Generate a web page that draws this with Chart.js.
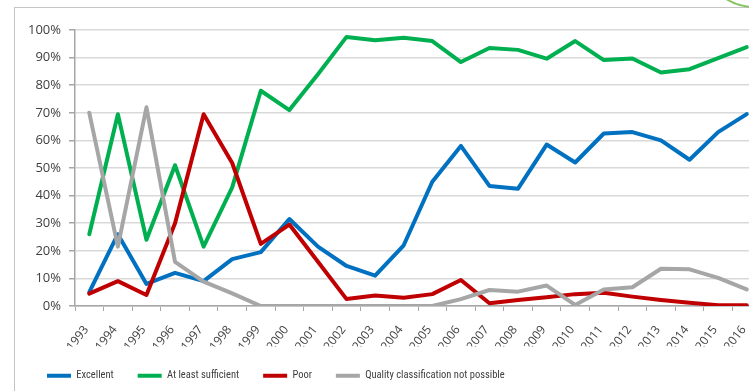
<!DOCTYPE html>
<html>
<head>
<meta charset="utf-8">
<script src="https://cdn.jsdelivr.net/npm/chart.js@4/dist/chart.umd.min.js"></script>
<style>
	html, body { margin: 0; padding: 0; background: #fff; overflow: hidden; width: 749px; height: 391px; }
	.frame { position: absolute; left: 14px; top: 7px; width: 800px; height: 420px; border: 1.5px solid #c4c4c4; box-sizing: border-box; }
	.badge { position: absolute; left: 699px; top: -104px; width: 112px; height: 112px; border: 2px solid #86c466; border-radius: 50%; box-sizing: border-box; }
	#qualityChart { position: absolute; left: 15px; top: 8px; }
</style>
</head>
<body>
<div class="frame"></div>
<div class="badge"></div>
<canvas id="qualityChart" width="760" height="383"></canvas>
<script>
"use strict";

const years = ["1993", "1994", "1995", "1996", "1997", "1998", "1999", "2000", "2001", "2002", "2003", "2004",
	"2005", "2006", "2007", "2008", "2009", "2010", "2011", "2012", "2013", "2014", "2015", "2016"];

const excellent = [5, 26, 8, 12, 9, 17, 19.5, 31.5, 21.5, 14.5, 11, 22, 45, 58, 43.5, 42.5, 58.5, 52, 62.5, 63, 60, 53, 63, 69.5];
const atLeastSufficient = [26, 69.5, 24, 51, 21.5, 43, 78, 71, 84, 97.5, 96.3, 97.2, 96, 88.4, 93.5, 92.8, 89.6, 96, 89.1, 89.7, 84.6, 85.8, 89.8, 93.8];
const poor = [4.5, 9, 4, 30, 69.5, 51.8, 22.5, 29.5, 16, 2.5, 3.8, 3, 4.3, 9.4, 1, 2.2, 3.2, 4.3, 4.8, 3.4, 2.2, 1.2, 0.3, 0.3];
const notPossible = [70, 21.5, 72, 16, 8.8, 4.6, 0, 0, 0, 0, 0, 0, 0, 2.5, 5.8, 5.2, 7.4, 0.4, 6, 6.8, 13.5, 13.3, 10.2, 6];

const yTicks = [0, 10, 20, 30, 40, 50, 60, 70, 80, 90, 100];

function series(label, data, color, order) {
	return {
		label: label,
		data: data,
		borderColor: color,
		backgroundColor: color,
		borderWidth: 4,
		borderJoinStyle: "round",
		borderCapStyle: "round",
		pointRadius: 0,
		pointHoverRadius: 0,
		tension: 0,
		fill: false,
		order: order // later series sit on top, as in the source sheet
	};
}

const ctx = document.getElementById("qualityChart").getContext("2d");

new Chart(ctx, {
	type: "line",
	data: {
		labels: years,
		datasets: [
			series("Excellent", excellent, "#0070c0", 3),
			series("At least sufficient", atLeastSufficient, "#00b050", 2),
			series("Poor", poor, "#c00000", 1),
			series("Quality classification not possible", notPossible, "#a6a6a6", 0)
		]
	},
	options: {
		responsive: false,
		animation: false,
		layout: {
			padding: { left: 8, right: 14, top: 22, bottom: 0 }
		},
		plugins: {
			tooltip: { enabled: false },
			legend: {
				position: "bottom",
				align: "start",
				labels: {
					usePointStyle: true,
					pointStyle: "line",
					pointStyleWidth: 24,
					padding: 24,
					color: "#404040",
					font: { family: "'Roboto Condensed', 'DejaVu Sans Condensed', sans-serif", size: 10.5 },
					sort: (a, b) => a.datasetIndex - b.datasetIndex
				}
			}
		},
		scales: {
			x: {
				offset: true,
				afterFit: (scale) => { scale.height = 40.5; },
				grid: {
					offset: true,
					drawOnChartArea: false,
					drawTicks: true,
					tickLength: 5,
					tickColor: "#a6a6a6"
				},
				border: { color: "#a6a6a6", width: 1.5 },
				ticks: {
					autoSkip: false,
					minRotation: 52,
					maxRotation: 52,
					padding: 12,
					labelOffset: -3,
					color: "#404040",
					font: { family: "'Open Sans', sans-serif", size: 12 }
				}
			},
			y: {
				min: 0,
				max: 100,
				afterFit: (scale) => { scale.width = 52; },
				afterBuildTicks: (scale) => { scale.ticks = yTicks.map(v => ({ value: v })); },
				grid: {
					color: "#d9d9d9",
					lineWidth: 1.5,
					tickLength: 6,
					tickColor: "#a6a6a6"
				},
				border: { color: "#a6a6a6", width: 1.5 },
				ticks: {
					padding: 8,
					color: "#404040",
					font: { family: "'Open Sans', sans-serif", size: 13 },
					callback: (value) => value + "%"
				}
			}
		}
	}
});
</script>
</body>
</html>
